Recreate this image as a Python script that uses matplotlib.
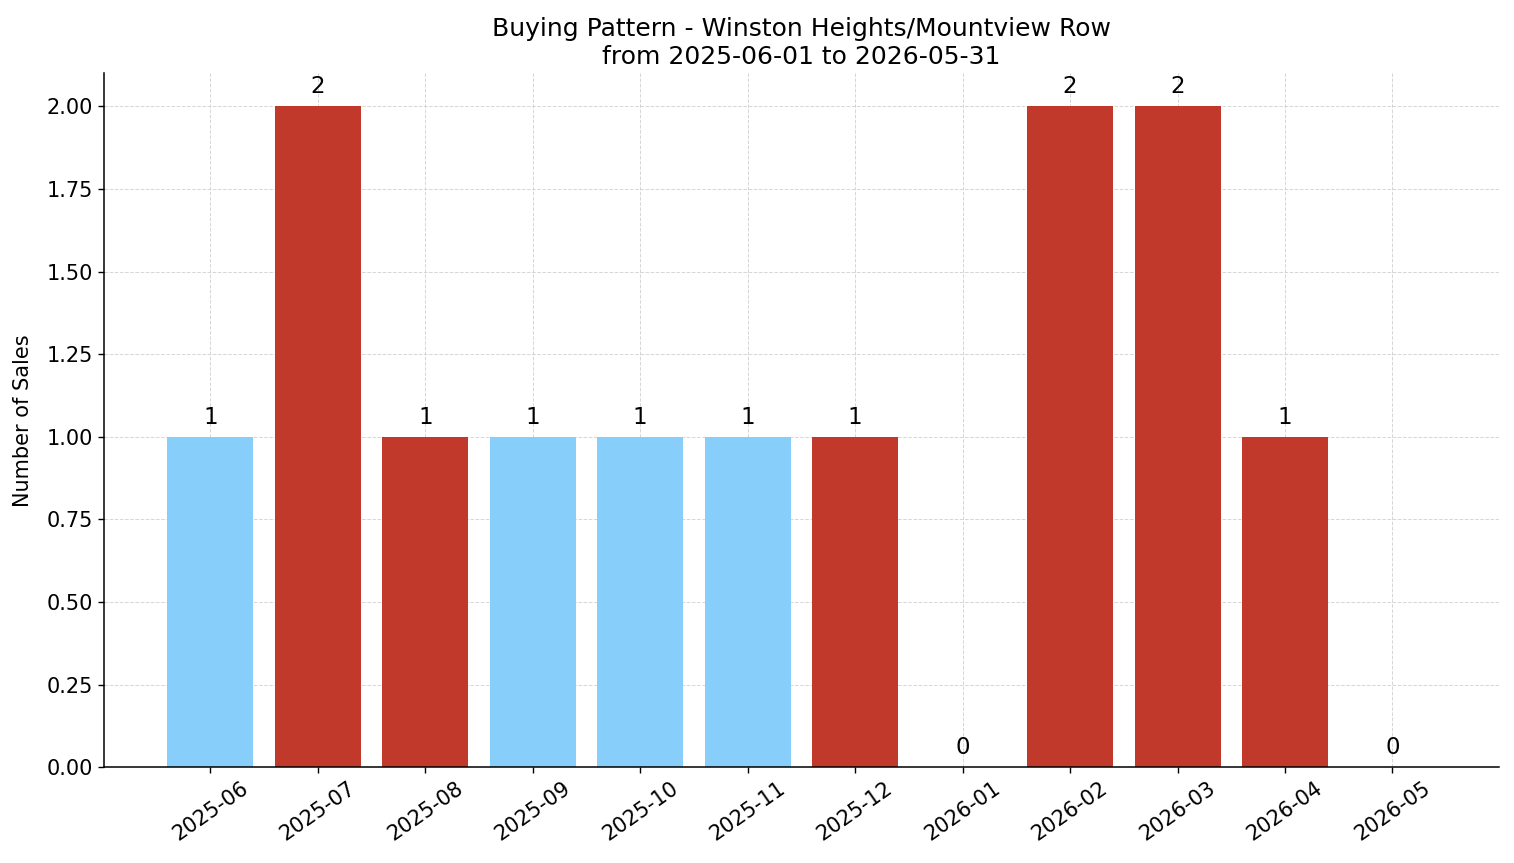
import matplotlib
matplotlib.use("Agg")
from matplotlib import pyplot as plt

months = ['2025-06', '2025-07', '2025-08', '2025-09', '2025-10', '2025-11',
          '2025-12', '2026-01', '2026-02', '2026-03', '2026-04', '2026-05']
sales = [1, 2, 1, 1, 1, 1, 1, 0, 2, 2, 1, 0]
bar_colors = ['#87CEFA', '#C0392B', '#C0392B', '#87CEFA', '#87CEFA', '#87CEFA',
              '#C0392B', '#C0392B', '#C0392B', '#C0392B', '#C0392B', '#C0392B']

fig, ax = plt.subplots(figsize=(15.14, 8.63), dpi=100)
x = range(len(months))
bars = ax.bar(x, sales, color=bar_colors, zorder=2)
for b, v in zip(bars, sales):
    ax.text(b.get_x() + b.get_width() / 2, v + 0.025, str(v),
            ha='center', va='bottom', fontsize=16.5)

ax.set_xticks(list(x))
ax.set_xticklabels(months, rotation=35, fontsize=15)
ax.tick_params(axis='y', labelsize=15)
ax.tick_params(length=4.4, width=1.0)
ax.set_ylabel("Number of Sales", fontsize=15, labelpad=10)
ax.set_title("Buying Pattern - Winston Heights/Mountview Row\nfrom 2025-06-01 to 2026-05-31",
             fontsize=18, pad=7)
ax.grid(True, linestyle='--', linewidth=0.7, color='#cccccc', alpha=0.8, zorder=0)
ax.set_axisbelow(True)
ax.spines['top'].set_visible(False)
ax.spines['right'].set_visible(False)
for s in ('left', 'bottom'):
    ax.spines[s].set_linewidth(1.1)

fig.subplots_adjust(left=0.0687, right=0.99, top=0.915, bottom=0.111)
fig.savefig("out.png", dpi=100)
